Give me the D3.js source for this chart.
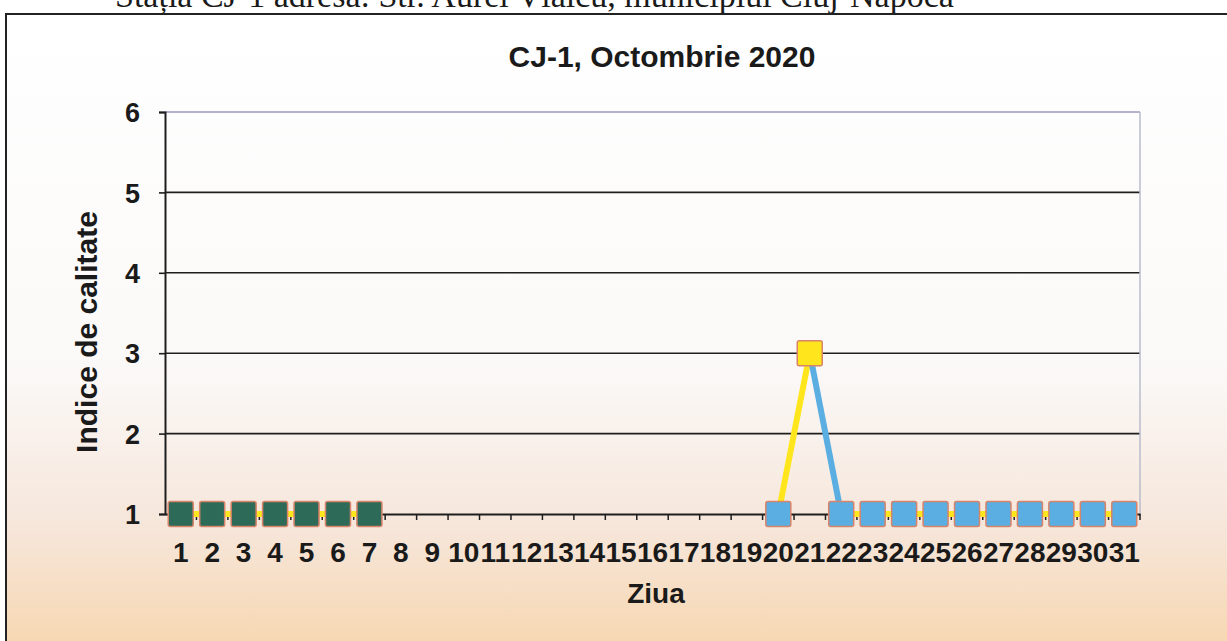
<!DOCTYPE html>
<html>
<head>
<meta charset="utf-8">
<script src="https://cdn.jsdelivr.net/npm/d3@7"></script>
<style>
  html, body { margin: 0; padding: 0; background: #fff; }
  svg { display: block; }
  text { font-family: "Liberation Sans", Arial, sans-serif; font-weight: bold; fill: #1a1a1a; }
</style>
</head>
<body>
<div id="chart"></div>
<script>
'use strict';

// Data
var zile = d3.range(1, 32);                       // Ziua 1..31
var serieA = [1, 1, 1, 1, 1, 1, 1];               // zilele 1-7
var zileA = [1, 2, 3, 4, 5, 6, 7];
var serieB = [1, 3, 1, 1, 1, 1, 1, 1, 1, 1, 1, 1]; // zilele 20-31
var zileB = [20, 21, 22, 23, 24, 25, 26, 27, 28, 29, 30, 31];
var yTicks = [1, 2, 3, 4, 5, 6];

var titlu = 'CJ-1, Octombrie 2020';
var antet = 'Stația CJ-1 adresa: Str. Aurel Vlaicu, municipiul Cluj-Napoca';

// Constants
var width = 1227, height = 641;
var margin = { left: 165, right: 87, top: 112, bottom: 127 };
var verde = '#2d6a57', albastru = '#5aaee2', galben = '#ffe61c', bordura = '#d8846a';

var svg = d3.select('#chart').append('svg')
    .attr('width', width)
    .attr('height', height);

var defs = svg.append('defs');
var grad = defs.append('linearGradient')
    .attr('id', 'fundal')
    .attr('x1', 0).attr('y1', 0).attr('x2', 0).attr('y2', 1);
grad.append('stop').attr('offset', '0%').attr('stop-color', '#ffffff');
grad.append('stop').attr('offset', '55%').attr('stop-color', '#fbf9f8');
grad.append('stop').attr('offset', '80%').attr('stop-color', '#f6e6da');
grad.append('stop').attr('offset', '100%').attr('stop-color', '#f7d6ae');

// header text from the page, mostly cut off at the top (as in the scan)
svg.append('text')
    .attr('x', 115)
    .attr('y', 7)
    .style('font-family', '"Liberation Serif", "Times New Roman", serif')
    .style('font-weight', 'normal')
    .style('font-size', '34px')
    .text(antet);

// chart frame
svg.append('rect')
    .attr('x', 6).attr('y', 14)
    .attr('width', width + 10).attr('height', height)
    .attr('fill', 'url(#fundal)')
    .attr('stroke', '#222')
    .attr('stroke-width', 2);

var x = d3.scaleBand()
    .domain(zile)
    .range([margin.left, width - margin.right]);

var y = d3.scaleLinear()
    .domain([1, 6])
    .range([height - margin.bottom, margin.top]);

// gridlines
svg.append('g')
    .selectAll('line')
    .data(yTicks.filter(function (d) { return d > 1; }))
    .enter().append('line')
    .attr('x1', margin.left)
    .attr('x2', width - margin.right)
    .attr('y1', function (d) { return y(d); })
    .attr('y2', function (d) { return y(d); })
    .attr('stroke', function (d) { return d === 6 ? '#b4b2cc' : '#1e1e1e'; })
    .attr('stroke-width', function (d) { return d === 6 ? 2 : 1.6; });

// right border of plot area
svg.append('line')
    .attr('x1', width - margin.right).attr('x2', width - margin.right)
    .attr('y1', y(6)).attr('y2', y(1))
    .attr('stroke', '#b8bccb')
    .attr('stroke-width', 1.5);

// y axis
var yAxis = svg.append('g')
    .attr('transform', 'translate(' + margin.left + ',0)')
    .call(d3.axisLeft(y).tickValues(yTicks).tickSize(6).tickPadding(19).tickFormat(d3.format('d')));
yAxis.select('.domain').attr('stroke', '#1e1e1e').attr('stroke-width', 2);
yAxis.selectAll('.tick line').attr('stroke', '#1e1e1e').attr('stroke-width', 1.6);
yAxis.selectAll('text')
    .style('font-size', '27px')
    .attr('dy', '0.36em');

// x axis
var xAxis = svg.append('g')
    .attr('transform', 'translate(0,' + y(1) + ')')
    .call(d3.axisBottom(x).tickSize(0).tickPadding(48));
xAxis.select('.domain').attr('stroke', '#1e1e1e').attr('stroke-width', 2);
xAxis.selectAll('text')
    .style('font-size', '28px')
    .attr('dy', 0);

// x ticks between categories
xAxis.selectAll('line.bound')
    .data(zile)
    .enter().append('line')
    .attr('class', 'bound')
    .attr('x1', function (d) { return x(d) + x.bandwidth(); })
    .attr('x2', function (d) { return x(d) + x.bandwidth(); })
    .attr('y1', 0)
    .attr('y2', 6)
    .attr('stroke', '#1e1e1e')
    .attr('stroke-width', 1.5);

// titles
svg.append('text')
    .attr('x', 662)
    .attr('y', 67)
    .attr('text-anchor', 'middle')
    .style('font-size', '30px')
    .text(titlu);

svg.append('text')
    .attr('x', 656)
    .attr('y', 603)
    .attr('text-anchor', 'middle')
    .style('font-size', '28px')
    .text('Ziua');

svg.append('text')
    .attr('transform', 'translate(97,' + 332 + ') rotate(-90)')
    .attr('text-anchor', 'middle')
    .style('font-size', '30px')
    .text('Indice de calitate');

// series
function cx(d) { return x(d) + x.bandwidth() / 2; }

function culoareB(v) { return v === 3 ? galben : albastru; }

function drawSeries(zs, vals, markerColor) {
    var pts = zs.map(function (z, i) { return { z: z, v: vals[i] }; });
    var segs = d3.pairs(pts);
    svg.append('g').selectAll('line')
        .data(segs)
        .enter().append('line')
        .attr('x1', function (s) { return cx(s[0].z); })
        .attr('y1', function (s) { return y(s[0].v); })
        .attr('x2', function (s) { return cx(s[1].z); })
        .attr('y2', function (s) { return y(s[1].v); })
        .attr('stroke', function (s) {
            return s[0].v !== s[1].v ? markerColor(s[1].v) : galben;
        })
        .attr('stroke-width', 6);

    var m = 25;
    svg.append('g').selectAll('rect')
        .data(pts)
        .enter().append('rect')
        .attr('x', function (d) { return cx(d.z) - m / 2; })
        .attr('y', function (d) { return y(d.v) - m / 2; })
        .attr('width', m)
        .attr('height', m)
        .attr('rx', 2)
        .attr('fill', function (d) { return markerColor(d.v); })
        .attr('stroke', bordura)
        .attr('stroke-width', 1.5);
}

drawSeries(zileA, serieA, function () { return verde; });
drawSeries(zileB, serieB, culoareB);
</script>
</body>
</html>
